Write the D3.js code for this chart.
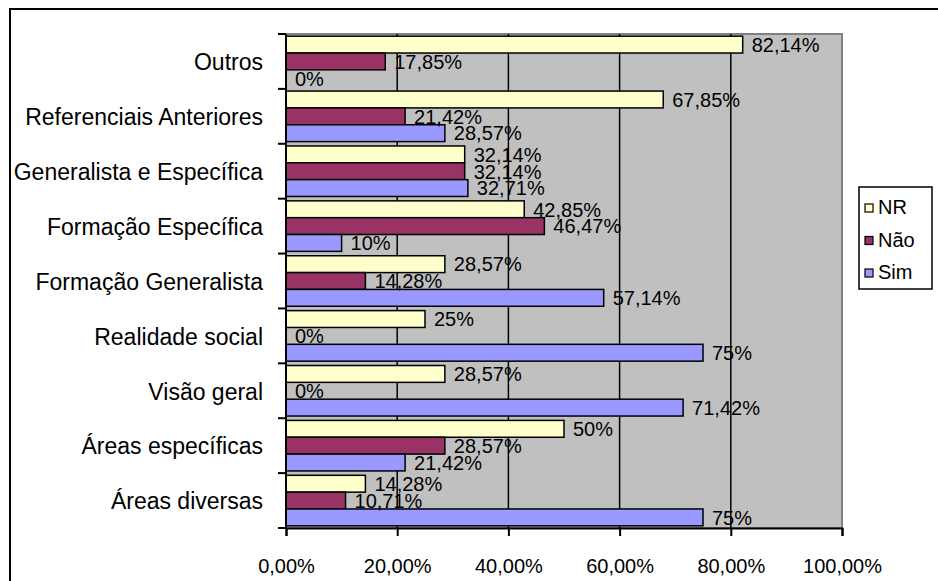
<!DOCTYPE html>
<html>
<head>
<meta charset="utf-8">
<script src="https://cdn.jsdelivr.net/npm/d3@7/dist/d3.min.js"></script>
<style>
  html, body { margin: 0; padding: 0; background: #ffffff; }
  svg { display: block; }
  text { font-family: "Liberation Sans", Arial, sans-serif; fill: #000; }
</style>
</head>
<body>
<svg id="chart" width="938" height="581"></svg>
<script>
// ---- data ----
const categories = [
  "Outros",
  "Referenciais Anteriores",
  "Generalista e Específica",
  "Formação Específica",
  "Formação Generalista",
  "Realidade social",
  "Visão geral",
  "Áreas específicas",
  "Áreas diversas"
];
const seriesNames = ["NR", "Não", "Sim"];
const nrValues  = [82.14, 67.85, 32.14, 42.85, 28.57, 25, 28.57, 50, 14.28];
const naoValues = [17.85, 21.42, 32.14, 46.47, 14.28, 0, 0, 28.57, 10.71];
const simValues = [0, 28.57, 32.71, 10, 57.14, 75, 71.42, 21.42, 75];
const xTickValues = [0, 20, 40, 60, 80, 100];
const seriesColors = ["#FFFFCC", "#993366", "#9999FF"];

(function () {
// ---- build ----
const seriesValues = [nrValues, naoValues, simValues];
const rows = [];
categories.forEach((c, i) => {
  seriesNames.forEach((s, j) => {
    rows.push({ cat: c, series: s, value: seriesValues[j][i], color: seriesColors[j] });
  });
});

const svg = d3.select("#chart");
const pLeft = 286, pRight = 842, pTop = 34, pBottom = 528;

const x = d3.scaleLinear().domain([0, 100]).range([pLeft, pRight]);
const y = d3.scaleBand().domain(categories).range([pTop, pBottom]).paddingInner(0).paddingOuter(0);
const ySub = d3.scaleBand().domain(seriesNames).range([0, y.bandwidth()]).paddingInner(0).paddingOuter(0.13);

const fmtPct = v => String(v).replace(".", ",") + "%";
const fmtAxis = v => d3.format(".2f")(v).replace(".", ",") + "%";

// outer chart border
svg.append("rect")
  .attr("x", 10).attr("y", 9)
  .attr("width", 1000).attr("height", 1000)
  .attr("fill", "#ffffff")
  .attr("stroke", "#000").attr("stroke-width", 2);

// plot area
svg.append("rect")
  .attr("x", pLeft).attr("y", pTop)
  .attr("width", pRight - pLeft).attr("height", pBottom - pTop)
  .attr("fill", "#C0C0C0")
  .attr("stroke", "#808080").attr("stroke-width", 2);

// vertical gridlines
svg.append("g").selectAll("line")
  .data(xTickValues.filter(v => v > 0 && v < 100))
  .join("line")
  .attr("x1", d => x(d)).attr("x2", d => x(d))
  .attr("y1", pTop).attr("y2", pBottom)
  .attr("stroke", "#000").attr("stroke-width", 1.5);

// bars
svg.append("g").selectAll("rect")
  .data(rows.filter(d => d.value > 0))
  .join("rect")
  .attr("x", x(0))
  .attr("y", d => y(d.cat) + ySub(d.series))
  .attr("width", d => x(d.value) - x(0))
  .attr("height", ySub.bandwidth())
  .attr("fill", d => d.color)
  .attr("stroke", "#000").attr("stroke-width", 1.5);

// data labels
svg.append("g").selectAll("text")
  .data(rows)
  .join("text")
  .attr("x", d => x(d.value) + 9)
  .attr("y", d => y(d.cat) + ySub(d.series) + ySub.bandwidth() / 2 + 2)
  .attr("dominant-baseline", "middle")
  .attr("font-size", 20)
  .text(d => fmtPct(d.value));

// y axis
const yAxis = d3.axisLeft(y).tickSize(0).tickPadding(23).tickFormat(d => d);
const gy = svg.append("g").attr("transform", `translate(${pLeft},0)`).call(yAxis);
gy.select(".domain").remove();
gy.selectAll("text").attr("font-size", 23).attr("font-family", "Liberation Sans, Arial, sans-serif").attr("fill", "#000").attr("dy", "0.38em");
// category boundary ticks
svg.append("g").selectAll("line")
  .data(categories.concat(["__end"]))
  .join("line")
  .attr("x1", pLeft - 8).attr("x2", pLeft)
  .attr("y1", (d, i) => pTop + i * y.step()).attr("y2", (d, i) => pTop + i * y.step())
  .attr("stroke", "#000").attr("stroke-width", 2);
svg.append("line")
  .attr("x1", pLeft).attr("x2", pLeft).attr("y1", pTop).attr("y2", pBottom)
  .attr("stroke", "#000").attr("stroke-width", 2);

// x axis
const xAxis = d3.axisBottom(x).tickValues(xTickValues).tickSize(8).tickPadding(23).tickFormat(fmtAxis);
const gx = svg.append("g").attr("transform", `translate(0,${pBottom})`).call(xAxis);
gx.select(".domain").attr("stroke", "#000").attr("stroke-width", 2);
gx.selectAll(".tick line").attr("stroke", "#000").attr("stroke-width", 2);
gx.selectAll("text").attr("font-size", 20).attr("font-family", "Liberation Sans, Arial, sans-serif").attr("fill", "#000");

// legend
const legend = svg.append("g");
legend.append("rect")
  .attr("x", 859).attr("y", 187).attr("width", 73).attr("height", 102)
  .attr("fill", "#fff").attr("stroke", "#000").attr("stroke-width", 1.5);
const legRows = [0, 1, 2].map(i => ({ name: seriesNames[i], color: seriesColors[i], cy: 208 + i * 32.5 }));
legend.selectAll("rect.sw").data(legRows).join("rect")
  .attr("class", "sw")
  .attr("x", 865).attr("y", d => d.cy - 4)
  .attr("width", 8).attr("height", 8)
  .attr("fill", d => d.color).attr("stroke", "#000").attr("stroke-width", 1.2);
legend.selectAll("text").data(legRows).join("text")
  .attr("x", 878).attr("y", d => d.cy + 1)
  .attr("dominant-baseline", "middle")
  .attr("font-size", 20)
  .text(d => d.name);
})();
</script>
</body>
</html>
